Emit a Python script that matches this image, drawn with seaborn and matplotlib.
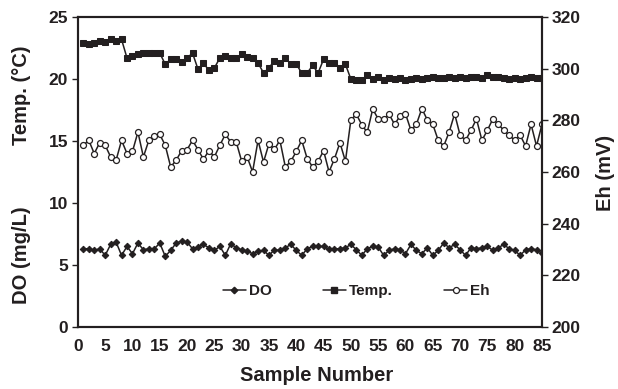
import numpy as np
import pandas as pd
import matplotlib
matplotlib.use("Agg")
import matplotlib.pyplot as plt
import seaborn as sns
from matplotlib.lines import Line2D

sample = list(range(1, 86))

do_vals = [6.32, 6.32, 6.19, 6.32, 5.79, 6.67, 6.86, 5.79, 6.51, 5.92,
           6.78, 6.24, 6.32, 6.32, 6.78, 5.71, 6.19, 6.78, 6.94, 6.86,
           6.32, 6.46, 6.67, 6.40, 6.19, 6.51, 5.79, 6.73, 6.40, 6.24,
           6.13, 5.92, 6.13, 6.19, 5.79, 6.24, 6.19, 6.40, 6.67, 6.19,
           5.79, 6.32, 6.51, 6.51, 6.51, 6.28, 6.32, 6.32, 6.40, 6.67,
           6.24, 5.79, 6.32, 6.51, 6.46, 5.79, 6.19, 6.32, 6.24, 5.92,
           6.67, 6.19, 5.92, 6.40, 5.79, 6.19, 6.78, 6.40, 6.67, 6.24,
           5.79, 6.40, 6.32, 6.40, 6.51, 6.19, 6.40, 6.67, 6.32, 6.19,
           5.79, 6.24, 6.32, 6.24, 5.97]

temp_vals = [22.9, 22.8, 22.9, 23.1, 23.0, 23.2, 23.1, 23.2, 21.7, 21.9,
             22.0, 22.1, 22.1, 22.1, 22.1, 21.2, 21.6, 21.6, 21.4, 21.7,
             22.1, 20.8, 21.3, 20.7, 20.9, 21.7, 21.9, 21.7, 21.7, 22.0,
             21.8, 21.7, 21.3, 20.5, 20.9, 21.5, 21.3, 21.7, 21.2, 21.2,
             20.5, 20.5, 21.1, 20.5, 21.6, 21.3, 21.3, 20.9, 21.2, 20.0,
             19.9, 19.9, 20.3, 20.0, 20.2, 19.9, 20.1, 20.0, 20.1, 19.9,
             20.0, 20.1, 20.0, 20.1, 20.2, 20.1, 20.1, 20.2, 20.1, 20.2,
             20.1, 20.2, 20.2, 20.1, 20.3, 20.2, 20.2, 20.1, 20.0, 20.1,
             20.0, 20.1, 20.2, 20.1, 20.1]

eh_vals = [270.4, 272.3, 267.2, 271.4, 270.4, 265.9, 264.6, 272.3, 267.2, 268.0,
           275.5, 265.9, 272.3, 274.0, 274.6, 270.4, 262.0, 264.6, 268.3, 268.7,
           272.3, 268.7, 265.0, 268.3, 265.9, 270.4, 274.6, 271.7, 271.7, 264.2,
           265.9, 260.1, 272.3, 263.9, 271.0, 268.8, 272.3, 262.0, 264.2, 268.0,
           272.3, 265.2, 262.0, 264.2, 268.3, 260.1, 265.2, 271.4, 264.2, 280.2,
           282.4, 278.3, 275.4, 284.4, 280.6, 280.6, 282.4, 278.5, 281.7, 282.6,
           276.2, 278.5, 284.6, 280.2, 278.5, 272.3, 270.1, 275.5, 282.6, 274.3,
           272.3, 276.2, 280.6, 272.3, 276.2, 280.6, 278.5, 276.2, 274.3, 272.3,
           274.3, 270.1, 278.5, 270.1, 278.5]

x_ticks = list(range(0, 90, 5))
left_ticks = [0, 5, 10, 15, 20, 25]
right_ticks = [200, 220, 240, 260, 280, 300, 320]

df = pd.DataFrame({"Sample": sample, "DO": do_vals, "Temp": temp_vals, "Eh": eh_vals})

sns.set_theme(style="white")
plt.rcParams['font.family'] = ['Liberation Sans', 'DejaVu Sans']
plt.rcParams['font.weight'] = 'bold'

ink = '#231f20'
tick_fs = 12.5
label_fs = 14.5

fig = plt.figure(figsize=(6.18, 3.89), dpi=100)
ax = fig.add_axes([0.126, 0.159, 0.751, 0.797])
ax2 = ax.twinx()

sns.lineplot(data=df, x="Sample", y="DO", ax=ax, color=ink, lw=1.1,
             marker="D", markersize=3.3, markeredgecolor=ink, markerfacecolor=ink)
sns.lineplot(data=df, x="Sample", y="Temp", ax=ax, color=ink, lw=1.1,
             marker="s", markersize=4.8, markeredgecolor=ink, markerfacecolor=ink)
sns.lineplot(data=df, x="Sample", y="Eh", ax=ax2, color=ink, lw=1.1,
             marker="o", markersize=4.3, markeredgecolor=ink, markerfacecolor="white",
             markeredgewidth=0.9)

ax.set_xlim(0, 85)
ax.set_ylim(0, 25)
ax2.set_ylim(200, 320)
ax.set_xticks(x_ticks)
ax.set_yticks(left_ticks)
ax2.set_yticks(right_ticks)
ax.set_xticklabels([str(t) for t in x_ticks], fontsize=tick_fs, fontweight='bold', color=ink)
ax.set_yticklabels([str(t) for t in left_ticks], fontsize=tick_fs, fontweight='bold', color=ink)
ax2.set_yticklabels([str(t) for t in right_ticks], fontsize=tick_fs, fontweight='bold', color=ink)

ax.tick_params(axis='x', direction='in', length=4, width=1, pad=8.5, color=ink)
ax.tick_params(axis='y', direction='out', length=4, width=1, pad=3, color=ink, left=True)
ax2.tick_params(axis='y', direction='out', length=4, width=1, pad=3, color=ink, right=True)

for a in (ax, ax2):
    for s in a.spines.values():
        s.set_color(ink)
        s.set_linewidth(1.5)
        s.set_visible(True)

ax.set_xlabel("Sample Number", fontsize=label_fs, fontweight='bold', color=ink)
ax.xaxis.set_label_coords(0.515, -0.125)
ax.set_ylabel("")
ax2.set_ylabel("")
fig.text(0.979, 0.555, "Eh (mV)", rotation=90, ha='center', va='center',
         fontsize=label_fs, fontweight='bold', color=ink)
fig.text(0.035, 0.755, "Temp. (°C)", rotation=90, ha='center', va='center',
         fontsize=label_fs, fontweight='bold', color=ink)
fig.text(0.035, 0.345, "DO (mg/L)", rotation=90, ha='center', va='center',
         fontsize=label_fs, fontweight='bold', color=ink)

handles = [
    Line2D([], [], color=ink, lw=1.1, marker='D', markersize=3.3, markerfacecolor=ink),
    Line2D([], [], color=ink, lw=1.1, marker='s', markersize=4.8, markerfacecolor=ink),
    Line2D([], [], color=ink, lw=1.1, marker='o', markersize=4.3, markerfacecolor='white',
           markeredgewidth=0.9),
]
leg = ax2.legend(handles, ["DO", "Temp.", "Eh"], loc='center', bbox_to_anchor=(0.60, 0.117),
                 ncol=3, frameon=False, handlelength=1.45, handletextpad=0.2,
                 columnspacing=3.4, prop={'weight': 'bold', 'size': 11})
for t in leg.get_texts():
    t.set_color(ink)

fig.savefig("out.png", dpi=100)
